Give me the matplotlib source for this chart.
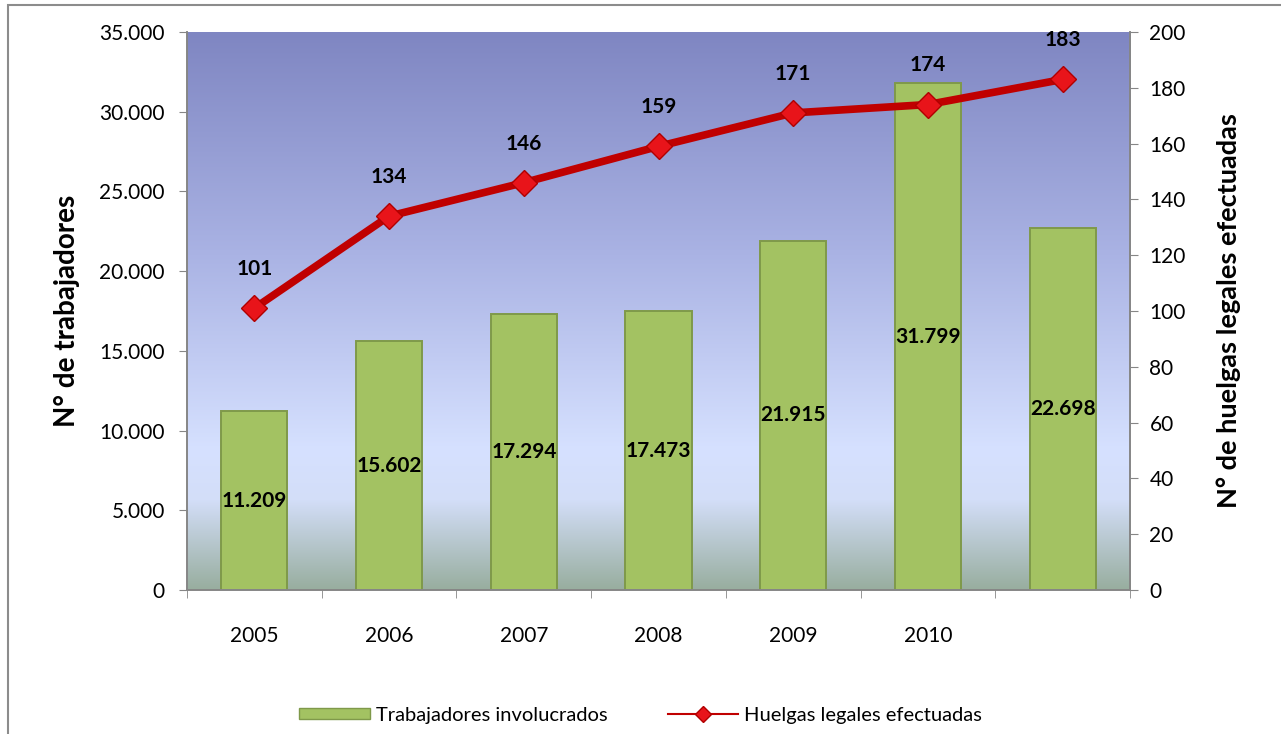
import numpy as np
import matplotlib
matplotlib.use('Agg')
import matplotlib.pyplot as plt
from matplotlib.colors import LinearSegmentedColormap
from matplotlib.patches import Rectangle
from matplotlib.ticker import FuncFormatter, FixedLocator

plt.rcParams['font.family'] = ['Lato', 'DejaVu Sans']

years = ['2005', '2006', '2007', '2008', '2009', '2010', '']
trabajadores = [11209, 15602, 17294, 17473, 21915, 31799, 22698]
huelgas = [101, 134, 146, 159, 171, 174, 183]


def miles(v, pos=None):
    return f'{int(v):,}'.replace(',', '.')


fig = plt.figure(figsize=(12.81, 7.34), dpi=100)
ax = fig.add_axes([187 / 1281, 1 - 590 / 734, 943 / 1281, 558 / 734])
ax2 = ax.twinx()

x = np.arange(len(years))
ax.set_xlim(-0.5, len(years) - 0.5)
ax.set_ylim(0, 35000)
ax2.set_ylim(0, 200)

# background gradient (top purple -> light blue -> grey green)
bg = LinearSegmentedColormap.from_list('bg', [
    (0.0, '#98ae9f'), (0.16, '#d3def8'), (0.25, '#d6e1ff'),
    (0.6, '#aab3e4'), (1.0, '#7f86c2')])
grad = np.linspace(0, 1, 256).reshape(-1, 1)
ax.imshow(grad, cmap=bg, origin='lower', aspect='auto',
          extent=(-0.5, len(years) - 0.5, 0, 35000), zorder=0)

bars = ax.bar(x, trabajadores, width=0.49, color='#a3c262',
              edgecolor='#7f994a', linewidth=1.4, zorder=2)
for b, v in zip(bars, trabajadores):
    ax.text(b.get_x() + b.get_width() / 2, v / 2, miles(v), ha='center',
            va='center', fontsize=15, fontweight='bold', zorder=5)

ax2.plot(x, huelgas, color='#c00000', lw=5.5, marker='D', markersize=13,
         markerfacecolor='#e8141a', markeredgecolor='#b00000', zorder=4)
for xi, v in zip(x, huelgas):
    ax2.text(xi, v + 14, str(v), ha='center', va='center', fontsize=15,
             fontweight='bold')

ax.yaxis.set_major_formatter(FuncFormatter(miles))
ax.set_yticks(np.arange(0, 35001, 5000))
ax2.set_yticks(np.arange(0, 201, 20))
ax.set_xticks(x)
ax.set_xticklabels(years)
ax.xaxis.set_minor_locator(FixedLocator(np.arange(-0.5, len(years), 1)))
ax.tick_params(axis='x', which='major', length=0, pad=26, labelsize=15)
ax.tick_params(axis='x', which='minor', length=6, color='#868686')
ax.tick_params(axis='y', length=6, color='#868686', labelsize=15, pad=10)
ax2.tick_params(axis='y', length=6, color='#868686', labelsize=15, pad=8)

for a in (ax, ax2):
    a.spines['top'].set_visible(False)
    for s in ('left', 'right', 'bottom'):
        a.spines[s].set_color('#868686')
        a.spines[s].set_linewidth(1.2)

ax.set_ylabel('N° de trabajadores', fontsize=20, fontweight='bold', labelpad=14)
ax2.set_ylabel('N° de huelgas legales efectuadas', fontsize=19.5,
               fontweight='bold', labelpad=22)

h1 = Rectangle((0, 0), 1, 1, facecolor='#a3c262', edgecolor='#7f994a')
h2 = plt.Line2D([], [], color='#c00000', lw=1.5, marker='D', markersize=8,
                markerfacecolor='#e8141a', markeredgecolor='#b00000')
fig.legend([h1, h2], ['Trabajadores involucrados', 'Huelgas legales efectuadas'],
           loc='center', bbox_to_anchor=(0.5, 1 - 715 / 734), ncol=2,
           frameon=False, fontsize=14.5, columnspacing=3, handlelength=3.5,
           handleheight=0.5, handletextpad=0.3)

fig.patches.append(Rectangle((8 / 1281, -0.1), 1.2, 1 - 5 / 734 + 0.1,
                             transform=fig.transFigure, fill=False,
                             edgecolor='#8c8c8c', linewidth=1.5))

fig.savefig('out.png', dpi=100)
